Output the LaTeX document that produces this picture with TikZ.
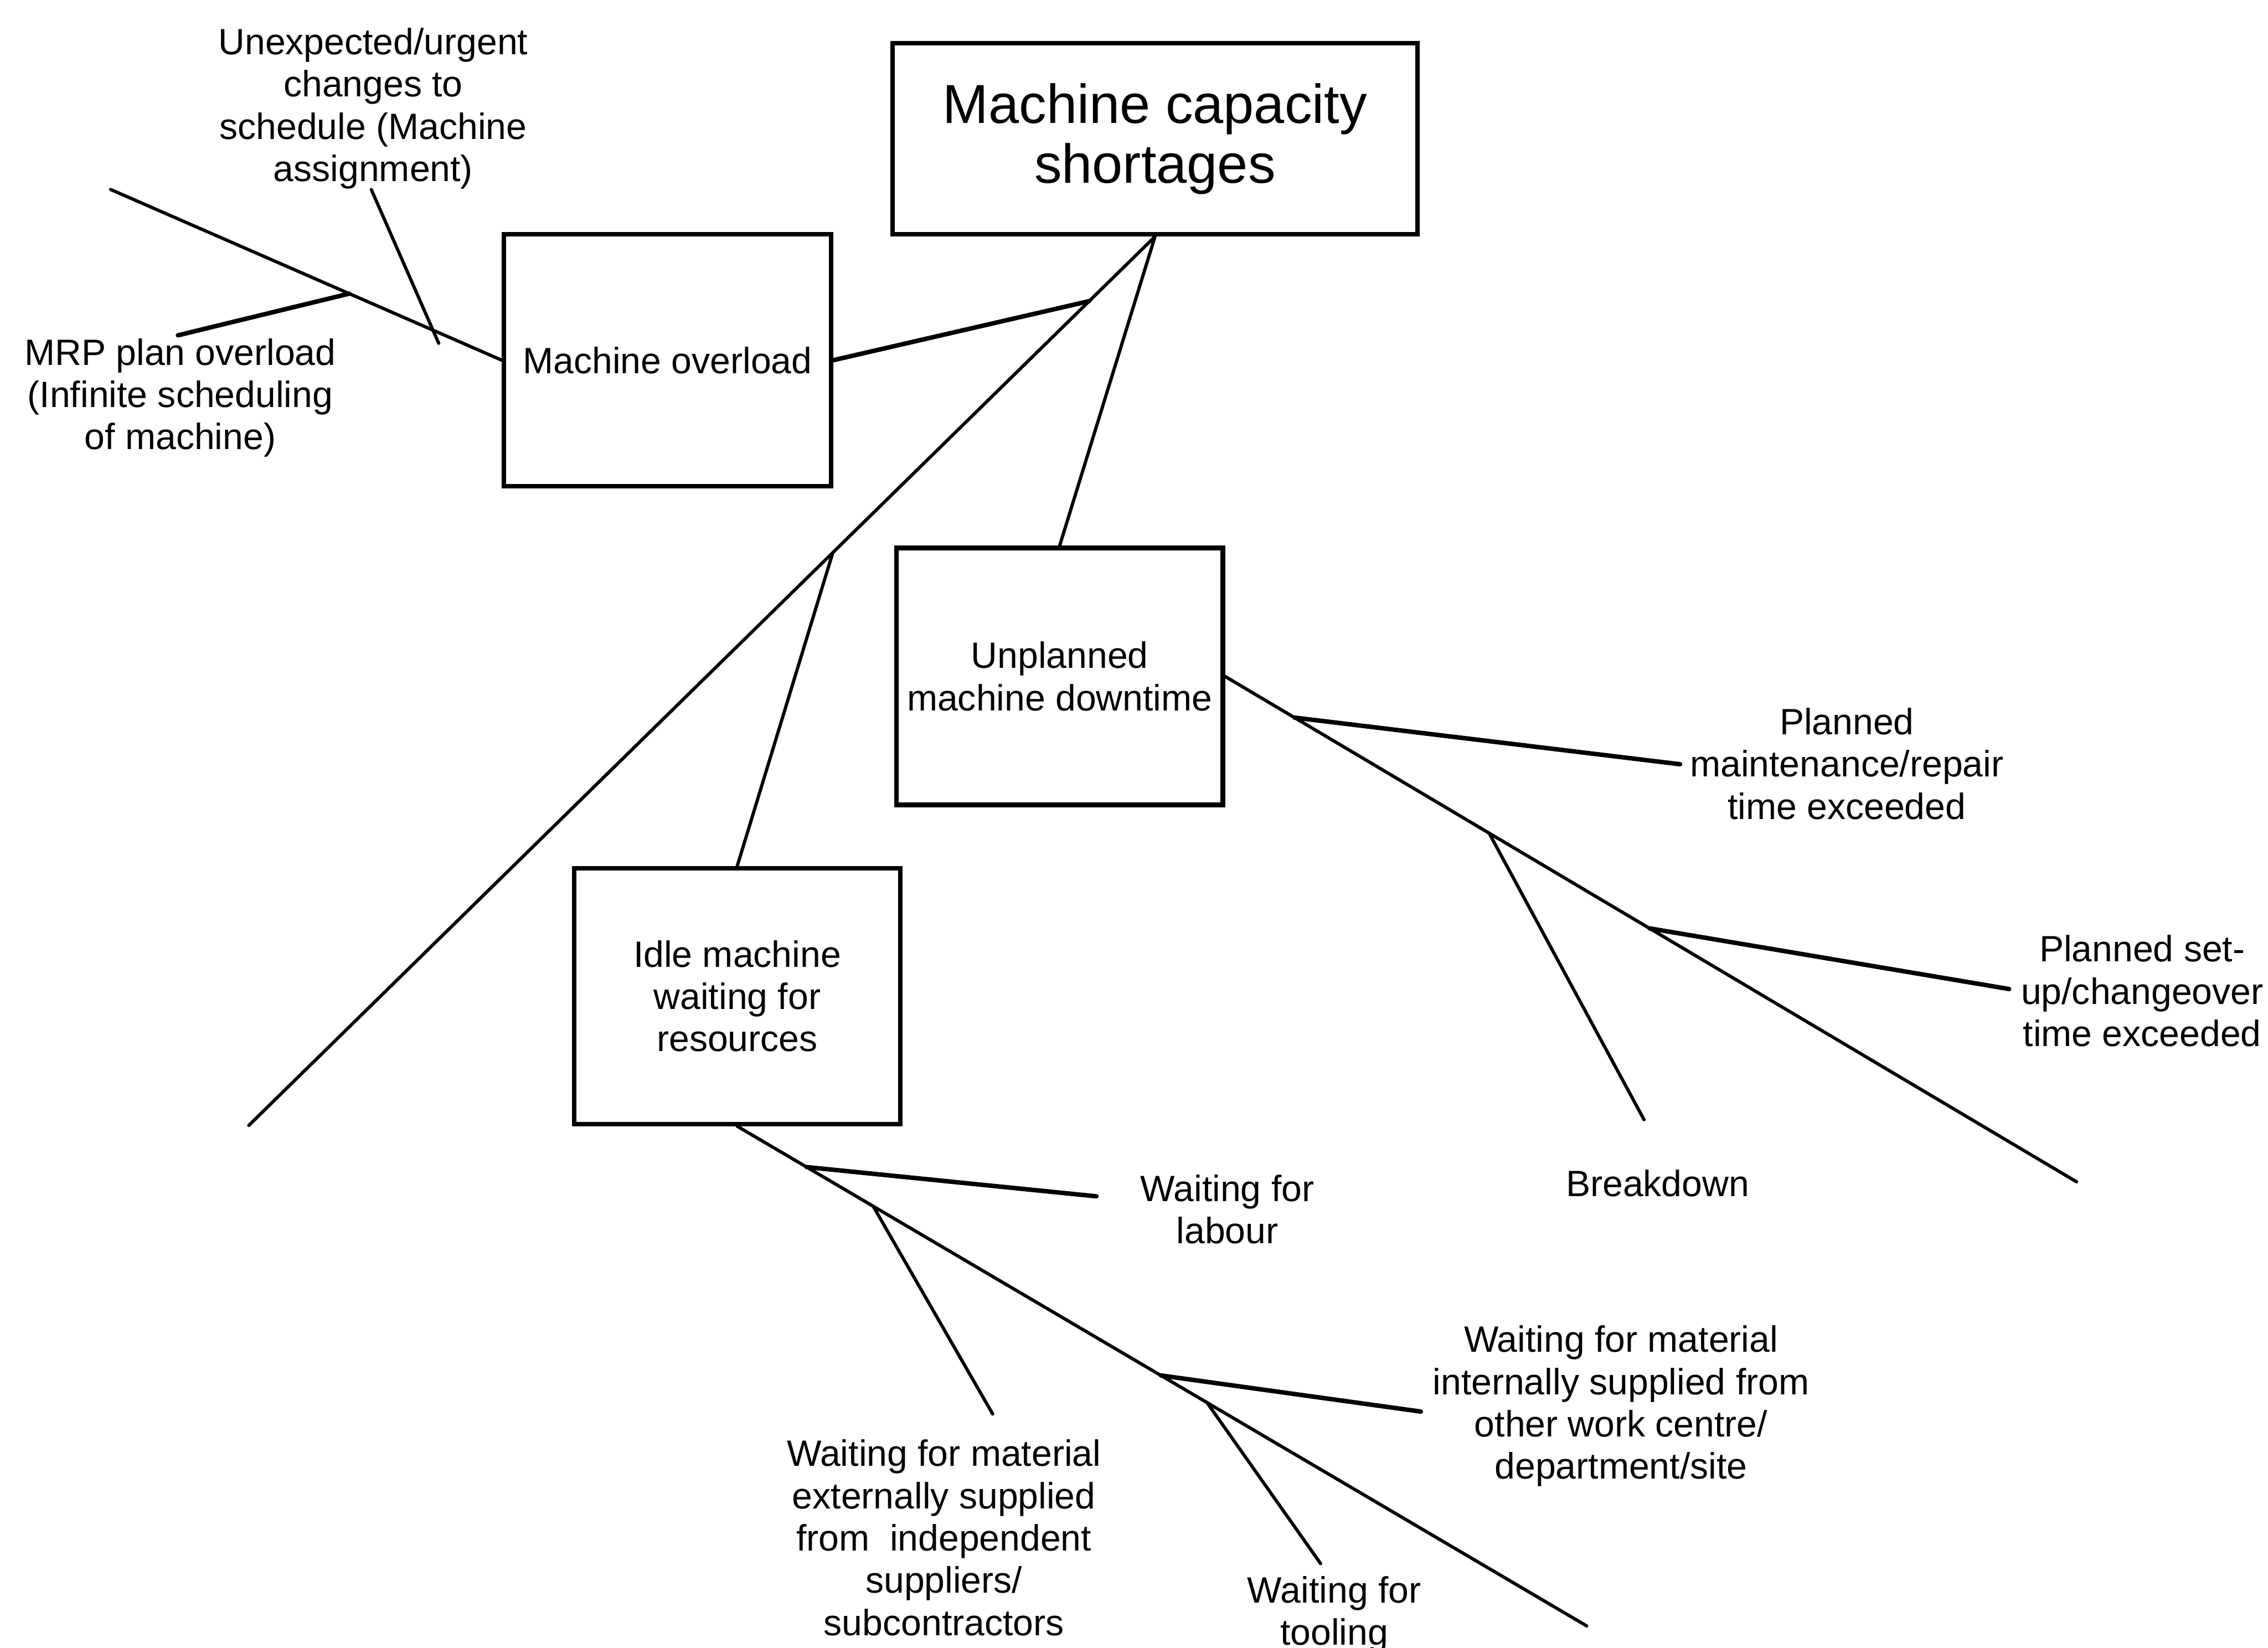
\documentclass[tikz,border=0pt]{standalone}
\usepackage{fontspec}
\setmainfont{Liberation Sans}
\usetikzlibrary{calc}
\begin{document}
\begin{tikzpicture}[x=0.025cm,y=-0.025cm,
  spine/.style={line width=1.6pt, line cap=round},
  bone/.style={line width=2.2pt, line cap=round},
  box/.style={draw, line width=2.2pt, inner sep=0pt, align=center,
    font=\fontsize{18}{20.8}\selectfont},
  lbl/.style={inner sep=0pt, align=center, font=\fontsize{18}{20.8}\selectfont},
]
\useasboundingbox (0,0) rectangle (1568,1139);

% effect and main causes
\node[box, font=\fontsize{27}{29.5}\selectfont, minimum width=9.075cm, minimum height=3.3cm]
  (title) at (798.5,96) {Machine capacity\\shortages};
\node[box, minimum width=5.65cm, minimum height=4.35cm] (over) at (461.5,249) {Machine overload};
\node[box, minimum width=5.64cm, minimum height=4.44cm] (down) at (732.6,467.6) {Unplanned\\machine downtime};
\node[box, minimum width=5.635cm, minimum height=4.42cm] (idle) at (509.7,688.6) {Idle machine\\waiting for\\resources};

% free ends of the spines
\coordinate (endA) at (172,778);
\coordinate (tailO) at (76.5,131);
\coordinate (tailD) at (1435.7,817);
\coordinate (tailI) at (1097,1124);

% junctions along the spines
\coordinate (jOver) at ($(title.south)!0.0726!(endA)$);
\coordinate (jIdle) at ($(title.south)!0.3555!(endA)$);
\coordinate (jMRP) at ($(over.west)!0.39!(tailO)$);
\coordinate (jMaint) at ($(down.east)!0.0815!(tailD)$);
\coordinate (jBreak) at ($(down.east)!0.31!(tailD)$);
\coordinate (jSetup) at ($(down.east)!0.4985!(tailD)$);
\coordinate (jLabour) at ($(idle.south)!0.0817!(tailI)$);
\coordinate (jExt) at ($(idle.south)!0.160!(tailI)$);
\coordinate (jInt) at ($(idle.south)!0.4987!(tailI)$);
\coordinate (jTool) at ($(idle.south)!0.553!(tailI)$);

% free ends of the ribs
\coordinate (eMRP) at (123,231.8);
\coordinate (sUnexp) at (256.7,131);
\coordinate (eUnexp) at (303.3,237.3);
\coordinate (eMaint) at (1161.5,528.3);
\coordinate (eBreak) at (1136.6,774);
\coordinate (eSetup) at (1389,683.7);
\coordinate (eLabour) at (758,827);
\coordinate (eExt) at (686.3,977.5);
\coordinate (eInt) at (982.3,975.8);
\coordinate (eTool) at (913,1080.9);

% spines
\draw[spine] (title.south) -- (endA);
\draw[spine] (title.south) -- (down.north);
\draw[bone] (over.east) -- (jOver);
\draw[spine] (jIdle) -- (idle.north);
\draw[spine] (over.west) -- (tailO);
\draw[spine] (down.east) -- (tailD);
\draw[spine] (idle.south) -- (tailI);

% ribs
\draw[bone] (jMRP) -- (eMRP);
\draw[spine] (sUnexp) -- (eUnexp);
\draw[bone] (jMaint) -- (eMaint);
\draw[spine] (jBreak) -- (eBreak);
\draw[bone] (jSetup) -- (eSetup);
\draw[bone] (jLabour) -- (eLabour);
\draw[spine] (jExt) -- (eExt);
\draw[bone] (jInt) -- (eInt);
\draw[spine] (jTool) -- (eTool);

% cause labels
\node[lbl] (lUnexp) at (258,75) {Unexpected/urgent\\changes to\\schedule (Machine\\assignment)};
\node[lbl] (lMRP) at (124.6,275) {MRP plan overload\\(Infinite scheduling\\of machine)};
\node[lbl] (lMaint) at (1276.8,528) {Planned\\maintenance/repair\\time exceeded};
\node[lbl] (lBreak) at (1146,818) {Breakdown};
\node[lbl] (lSetup) at (1481,685) {Planned set-\\up/changeover\\time exceeded};
\node[lbl] (lLabour) at (848.5,836) {Waiting for\\labour};
\node[lbl] (lExt) at (652.6,1063) {Waiting for material\\externally supplied\\from\ \ independent\\suppliers/\\subcontractors};
\node[lbl] (lInt) at (1120.7,972) {Waiting for material\\internally supplied from\\other work centre/\\department/site};
\node[lbl] (lTool) at (922.4,1116) {Waiting for\\tooling};
\end{tikzpicture}
\end{document}
